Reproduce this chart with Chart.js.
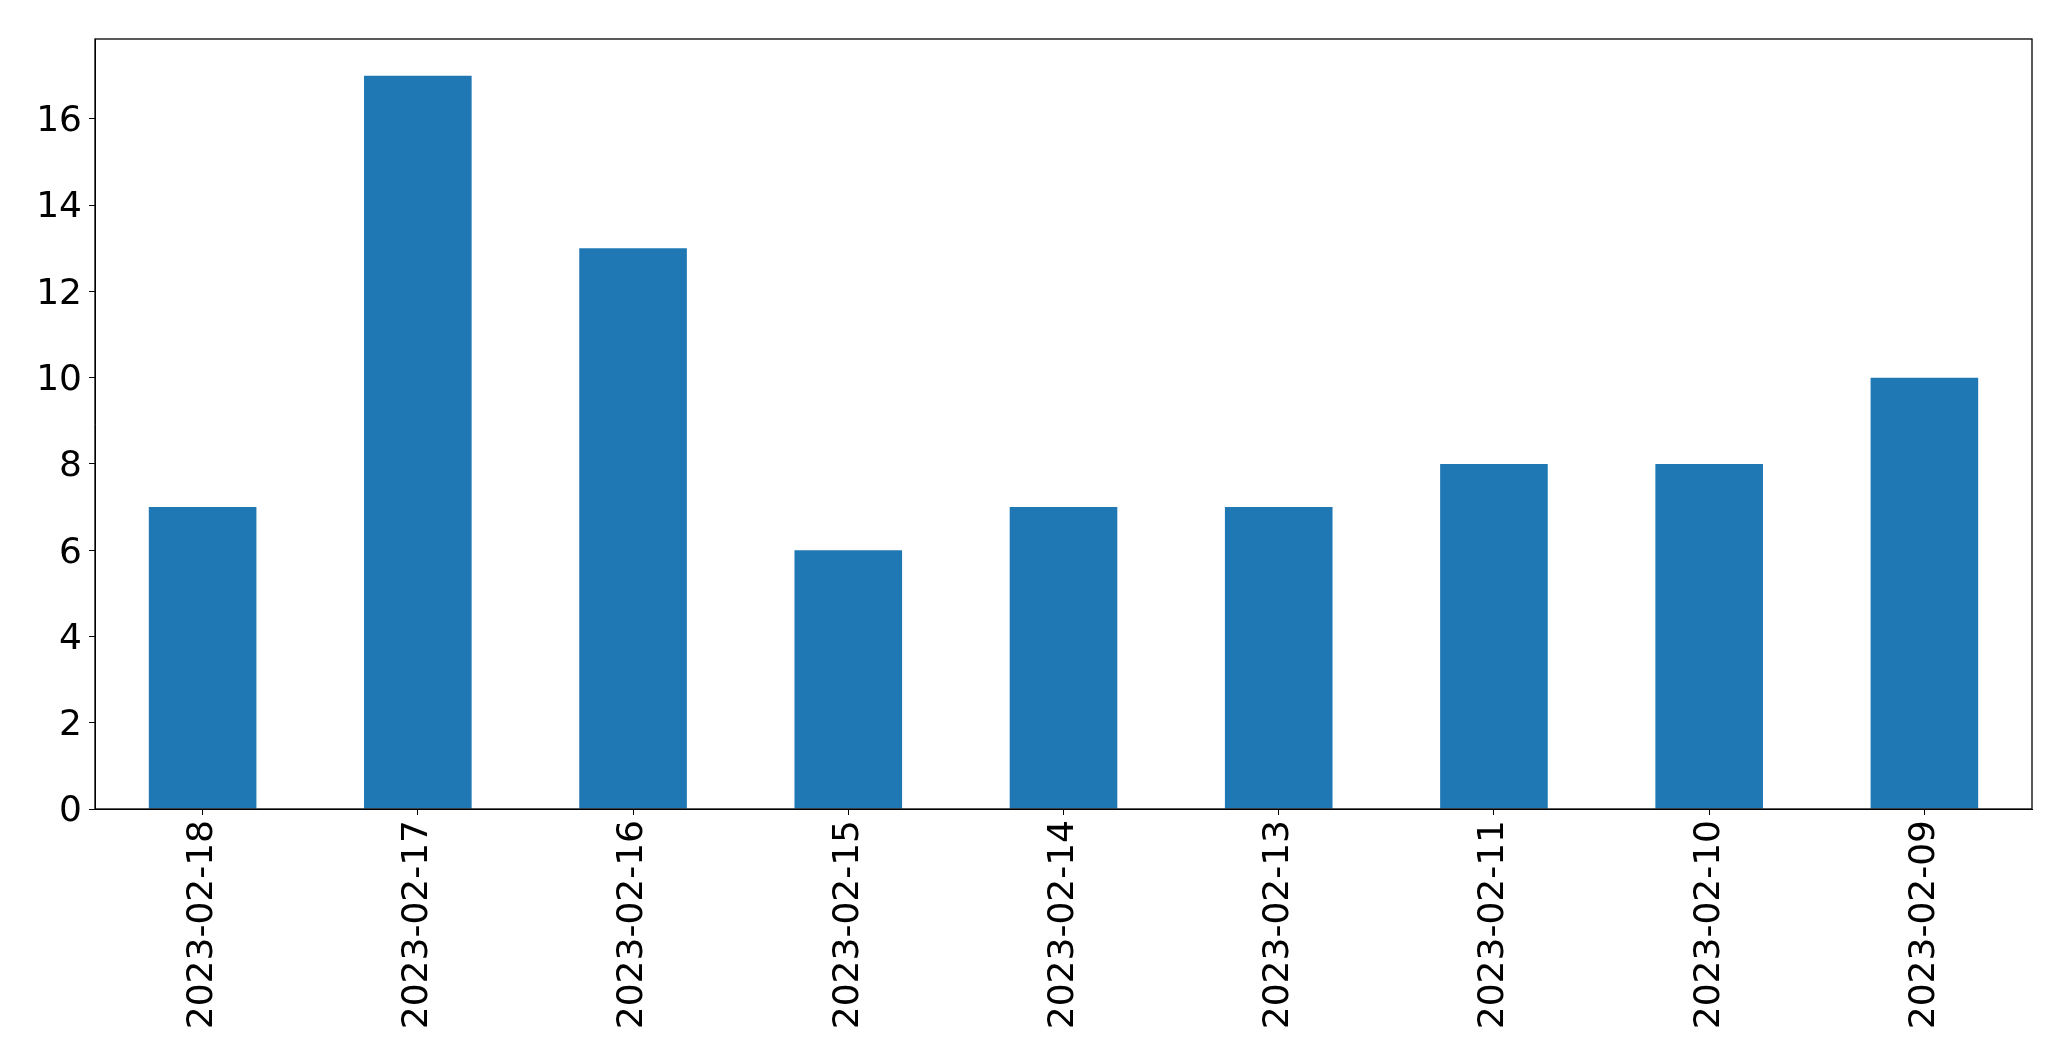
<!DOCTYPE html>
<html>
<head>
<meta charset="utf-8">
<script src="https://cdn.jsdelivr.net/npm/chart.js@4/dist/chart.umd.min.js"></script>
<style>
  html, body { margin: 0; padding: 0; background: #fff; }
  #wrap { width: 2071px; height: 1061px; }
</style>
</head>
<body>
<div id="wrap"><canvas id="barChart" width="2071" height="1061"></canvas></div>
<script>
const dates = ['2023-02-18', '2023-02-17', '2023-02-16', '2023-02-15', '2023-02-14',
               '2023-02-13', '2023-02-11', '2023-02-10', '2023-02-09'];
const counts = [7, 17, 13, 6, 7, 7, 8, 8, 10];
const yTicks = [0, 2, 4, 6, 8, 10, 12, 14, 16];

// box around the plot area, like matplotlib spines
const frame = {
  id: 'frame',
  afterDraw(chart) {
    const { ctx, chartArea: a } = chart;
    ctx.save();
    ctx.strokeStyle = '#000';
    ctx.lineWidth = 1.3;
    ctx.strokeRect(a.left, a.top, a.right - a.left, a.bottom - a.top);
    ctx.restore();
  }
};

const tickFont = { family: 'DejaVu Sans', size: 36 };

new Chart(document.getElementById('barChart').getContext('2d'), {
  type: 'bar',
  data: {
    labels: dates,
    datasets: [{
      data: counts,
      backgroundColor: '#1f77b4',
      barPercentage: 0.5,
      categoryPercentage: 1.0
    }]
  },
  options: {
    responsive: false,
    animation: false,
    layout: { padding: { top: 39, right: 39, left: 0, bottom: 0 } },
    plugins: { legend: { display: false }, tooltip: { enabled: false } },
    scales: {
      x: {
        grid: { display: true, offset: false, drawOnChartArea: false, drawTicks: true, tickLength: 6, color: '#000' },
        border: { display: true, color: '#000' },
        ticks: { font: tickFont, color: '#000', minRotation: 90, maxRotation: 90, padding: 5, autoSkip: false },
        afterFit(scale) { scale.height = 252; }
      },
      y: {
        min: 0,
        max: 17.85,
        grid: { display: true, drawOnChartArea: false, drawTicks: true, tickLength: 6, color: '#000' },
        border: { display: true, color: '#000' },
        afterBuildTicks(scale) { scale.ticks = yTicks.map(v => ({ value: v })); },
        ticks: { font: tickFont, color: '#000', padding: 7, labelOffset: 3 },
        afterFit(scale) { scale.width = 95; }
      }
    }
  },
  plugins: [frame]
});
</script>
</body>
</html>
